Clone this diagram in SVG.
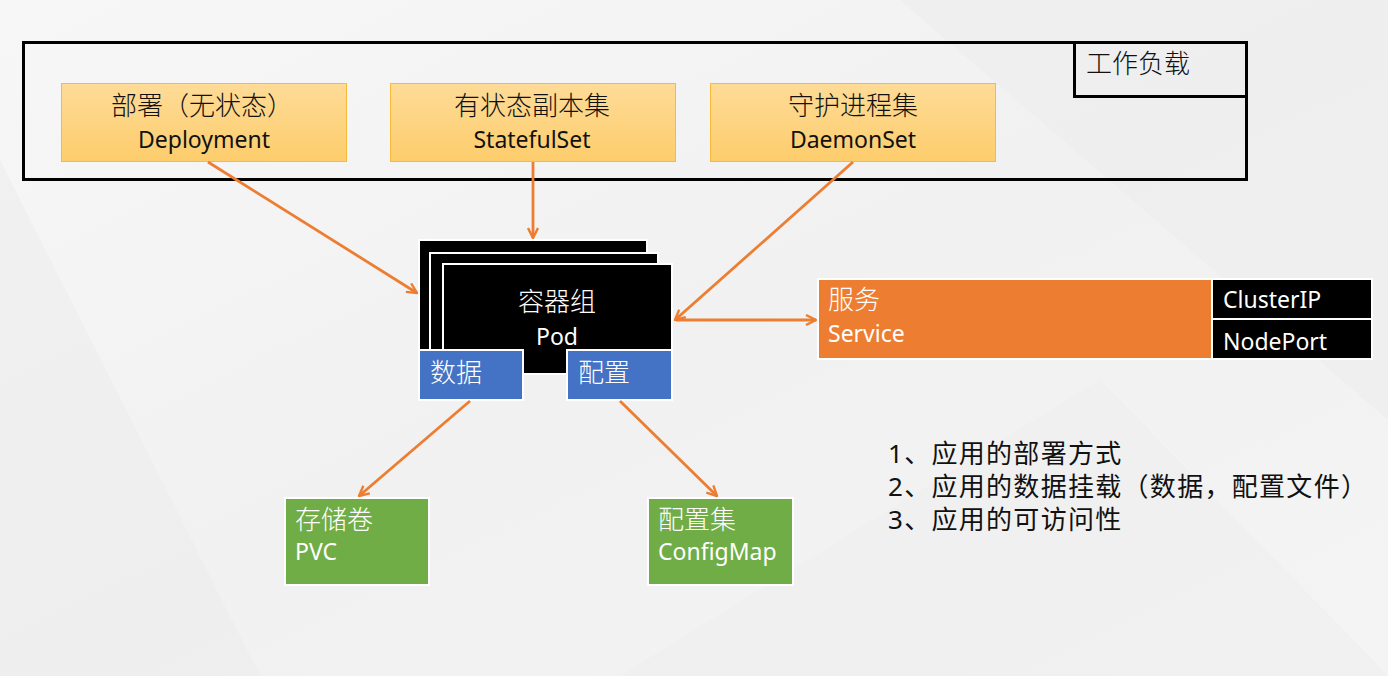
<svg xmlns="http://www.w3.org/2000/svg" width="1388" height="676" viewBox="0 0 1388 676">
  <defs>
    <linearGradient id="bg" x1="0" y1="0" x2="1" y2="1">
      <stop offset="0" stop-color="#f7f7f7"/>
      <stop offset="0.5" stop-color="#f1f1f1"/>
      <stop offset="1" stop-color="#f4f4f4"/>
    </linearGradient>
    <linearGradient id="yellow" x1="0" y1="0" x2="0" y2="1">
      <stop offset="0" stop-color="#fedb97"/>
      <stop offset="1" stop-color="#fdcd6c"/>
    </linearGradient>
    <marker id="arrow" viewBox="0 0 12 12" refX="11" refY="6" markerWidth="12" markerHeight="12" markerUnits="userSpaceOnUse" orient="auto-start-reverse">
      <path d="M1,1 L11,6 L1,11" fill="none" stroke="#ed7d31" stroke-width="2.4" stroke-linejoin="miter"/>
    </marker>
    <style>
      .t { font-family: "Noto Sans", "Noto Sans CJK SC", sans-serif; }
      .cjk { font-size: 26px; font-weight: 300; }
      .lat { font-size: 23px; }
      .dark { fill: #111; }
      .light { fill: #fff; }
      .yel { fill: url(#yellow); stroke: #f6bb3c; stroke-width: 1; }
      .blk { fill: #000; stroke: #fff; stroke-width: 2; }
      .blu { fill: #4472c4; stroke: #fff; stroke-width: 2; }
      .grn { fill: #70ad47; stroke: #fff; stroke-width: 2; }
      .org { fill: #ed7d31; stroke: #fff; stroke-width: 2; }
      .conn line { stroke: #ed7d31; stroke-width: 2.8; fill: none; marker-end: url(#arrow); }
      .list { font-size: 26px; fill: #111; letter-spacing: 1.3px; }
    </style>
  </defs>

  <rect width="1388" height="676" fill="url(#bg)"/>
  <polygon points="0,160 260,676 0,676" fill="#ececec" opacity="0.5"/>
  <polygon points="900,0 1388,0 1388,420" fill="#ebebeb" opacity="0.45"/>
  <polygon points="620,676 1100,380 1388,676" fill="#eeeeee" opacity="0.5"/>

  <!-- workload frame -->
  <g id="workload">
    <rect x="23.5" y="42.5" width="1223" height="137" fill="none" stroke="#000" stroke-width="3"/>
    <rect x="1074.5" y="42.5" width="172" height="54" fill="none" stroke="#000" stroke-width="3"/>
    <text class="t cjk dark" x="1086" y="73">工作负载</text>
  </g>

  <g id="deployment">
    <rect class="yel" x="61.5" y="83.5" width="285" height="78"/>
    <text class="t cjk dark" x="202" y="115" text-anchor="middle">部署（无状态）</text>
    <text class="t lat dark" x="204" y="148" text-anchor="middle">Deployment</text>
  </g>

  <g id="statefulset">
    <rect class="yel" x="390.5" y="83.5" width="285" height="78"/>
    <text class="t cjk dark" x="532" y="115" text-anchor="middle">有状态副本集</text>
    <text class="t lat dark" x="532" y="148" text-anchor="middle">StatefulSet</text>
  </g>

  <g id="daemonset">
    <rect class="yel" x="710.5" y="83.5" width="285" height="78"/>
    <text class="t cjk dark" x="853" y="115" text-anchor="middle">守护进程集</text>
    <text class="t lat dark" x="853" y="148" text-anchor="middle">DaemonSet</text>
  </g>

  <g id="pod">
    <rect class="blk" x="419" y="240" width="228" height="120"/>
    <rect class="blk" x="430" y="253" width="228" height="115"/>
    <rect class="blk" x="443" y="264" width="229" height="110"/>
    <text class="t cjk light" x="557" y="311" text-anchor="middle">容器组</text>
    <text class="t lat light" x="557" y="345" text-anchor="middle">Pod</text>
  </g>

  <g id="pod-data">
    <rect class="blu" x="419" y="350" width="104" height="50"/>
    <text class="t cjk light" x="430" y="382">数据</text>
  </g>

  <g id="pod-config">
    <rect class="blu" x="567" y="350" width="105" height="50"/>
    <text class="t cjk light" x="578" y="382">配置</text>
  </g>

  <g id="service">
    <rect class="org" x="818" y="279" width="394" height="80"/>
    <text class="t cjk light" x="828" y="309">服务</text>
    <text class="t lat light" x="828" y="342">Service</text>
  </g>

  <g id="clusterip">
    <rect class="blk" x="1212" y="279" width="160" height="40"/>
    <text class="t lat light" x="1223" y="308">ClusterIP</text>
  </g>

  <g id="nodeport">
    <rect class="blk" x="1212" y="319" width="160" height="40"/>
    <text class="t lat light" x="1223" y="350">NodePort</text>
  </g>

  <g id="pvc">
    <rect class="grn" x="285" y="498" width="144" height="87"/>
    <text class="t cjk light" x="295" y="529">存储卷</text>
    <text class="t lat light" x="295" y="560">PVC</text>
  </g>

  <g id="configmap">
    <rect class="grn" x="648" y="498" width="145" height="87"/>
    <text class="t cjk light" x="658" y="529">配置集</text>
    <text class="t lat light" x="658" y="560">ConfigMap</text>
  </g>

  <g id="connectors" class="conn">
    <line x1="208" y1="162" x2="417" y2="293"/>
    <line x1="533" y1="162" x2="533" y2="238"/>
    <line x1="853" y1="162" x2="675" y2="320"/>
    <line x1="676" y1="320" x2="816" y2="320"/>
    <line x1="470" y1="401" x2="359" y2="496"/>
    <line x1="620" y1="401" x2="717" y2="496"/>
  </g>

  <g id="notes" class="t list">
    <text x="888" y="463">1、应用的部署方式</text>
    <text x="888" y="496">2、应用的数据挂载（数据，配置文件）</text>
    <text x="888" y="529">3、应用的可访问性</text>
  </g>
</svg>
